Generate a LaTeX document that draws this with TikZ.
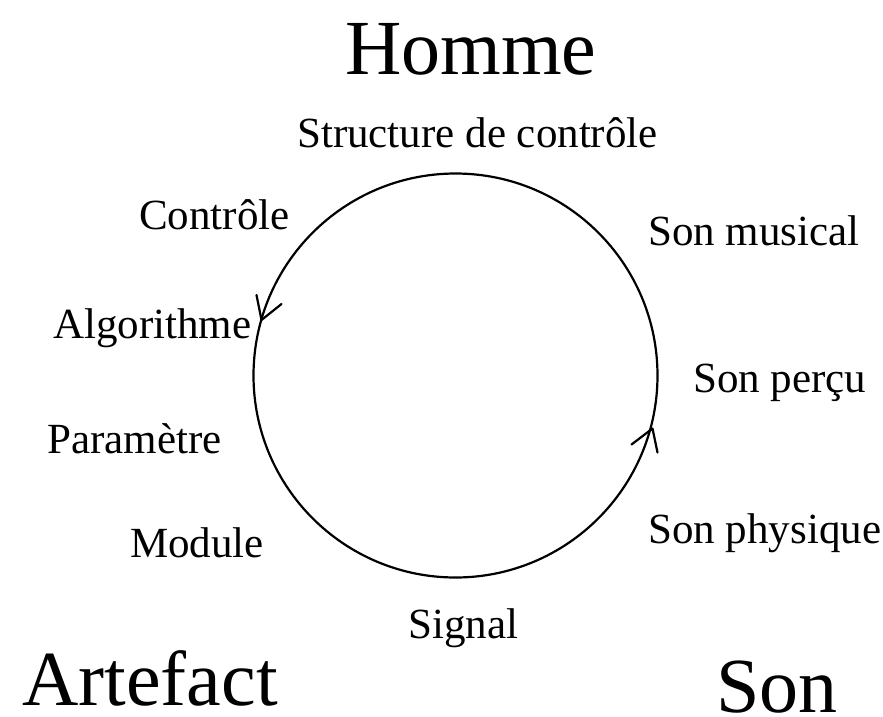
\documentclass[tikz,border=0pt]{standalone}
\usepackage{fontspec}
\setmainfont{Liberation Serif}
\begin{document}
\begin{tikzpicture}[x=1pt,y=-1pt,
  lbl/.style={anchor=base west,inner sep=0pt,font=\fontsize{43}{48}\selectfont},
  big/.style={anchor=base west,inner sep=0pt,text depth=0pt,font=\fontsize{78}{84}\selectfont},
  ring/.style={line width=2.2pt},
  barb/.style={line width=2.2pt,line cap=round,line join=round}]
\useasboundingbox (0,0) rectangle (883,716);
\coordinate (c) at (455.5,375.5);
\draw[ring] (c) circle[radius=202];
% left arrowhead (pointing down)
\coordinate (tipL) at (261.5,320);
\coordinate (bL1) at (256.5,295);
\coordinate (bL2) at (281.5,304);
\draw[barb] (bL1) -- (tipL) -- (bL2);
% right arrowhead (pointing up)
\coordinate (tipR) at (652.5,428.5);
\coordinate (bR1) at (631.5,444.5);
\coordinate (bR2) at (657.5,452.5);
\draw[barb] (bR1) -- (tipR) -- (bR2);
\node[big] (homme) at (345,74) {Homme};
\node[lbl] (s1) at (297,147) {Structure de contrôle};
\node[lbl] (s2) at (139,229) {Contrôle};
\node[lbl] (s3) at (648,245) {Son musical};
\node[lbl] (s4) at (53,338) {Algorithme};
\node[lbl] (s5) at (693,392) {Son perçu};
\node[lbl] (s6) at (47,453) {Paramètre};
\node[lbl] (s7) at (648,543) {Son physique};
\node[lbl] (s8) at (130,557) {Module};
\node[lbl] (s9) at (408,638) {Signal};
\node[big] (art) at (22,705) {Artefact};
\node[big] (son) at (716,712) {Son};
\end{tikzpicture}
\end{document}
